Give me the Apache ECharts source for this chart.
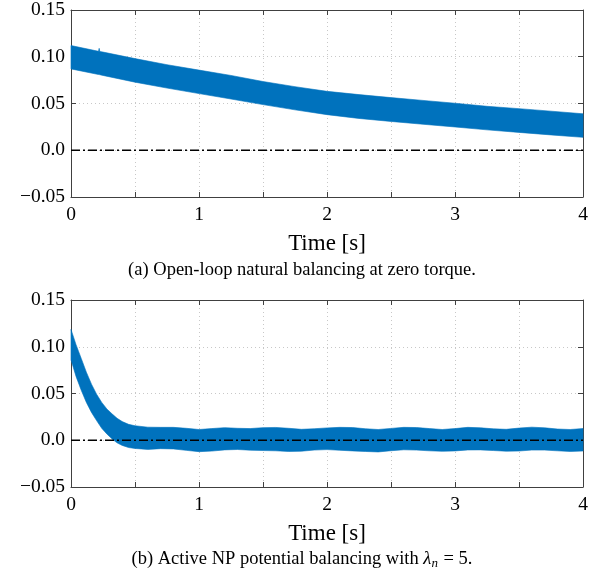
<!DOCTYPE html>
<html>
<head>
<meta charset="utf-8">
<script src="https://cdn.jsdelivr.net/npm/echarts@6/dist/echarts.min.js"></script>
<style>
  html, body { margin: 0; padding: 0; background: #fff; }
  #chart { width: 604px; height: 574px; }
</style>
</head>
<body>
<div id="chart"></div>
<script>
// (a) open-loop: envelope of the fast oscillation
const timeA = [0, 0.215, 0.22, 0.225, 0.25, 0.5, 0.75, 1.0, 1.25, 1.5, 1.75, 2.0, 2.25, 2.5, 2.75, 3.0, 3.25, 3.5, 3.75, 4.0]
const upperA = [0.112, 0.1058, 0.109, 0.1056, 0.105, 0.098, 0.0915, 0.0857, 0.080, 0.0735, 0.068, 0.063, 0.0595, 0.0563, 0.0533, 0.0503, 0.047, 0.0445, 0.0418, 0.039]
const lowerA = [0.087, 0.081, 0.0809, 0.0808, 0.080, 0.0728, 0.0665, 0.0606, 0.0548, 0.0488, 0.0432, 0.0381, 0.034, 0.0308, 0.0278, 0.0249, 0.0218, 0.0191, 0.0164, 0.0138]

// (b) active NP balancing
const timeB = [0, 0.04, 0.08, 0.12, 0.16, 0.2, 0.24, 0.28, 0.32, 0.36, 0.4, 0.45, 0.5,
  0.6, 0.7, 0.8, 0.9, 1.0, 1.1, 1.2, 1.3, 1.4, 1.5, 1.6, 1.7, 1.8, 1.9, 2.0,
  2.1, 2.2, 2.3, 2.4, 2.5, 2.6, 2.7, 2.8, 2.9, 3.0, 3.1, 3.2, 3.3, 3.4, 3.5,
  3.6, 3.7, 3.8, 3.9, 4.0]
const upperB = [0.1185, 0.102, 0.0875, 0.0728, 0.060, 0.0492, 0.0405, 0.0335, 0.0283, 0.0235, 0.020, 0.017, 0.0155,
  0.0140, 0.0138, 0.0138, 0.0128, 0.0115, 0.0125, 0.0135, 0.0128, 0.0125, 0.0135, 0.0137, 0.0128, 0.0117, 0.0123, 0.0132,
  0.0138, 0.0136, 0.0123, 0.0115, 0.0127, 0.0138, 0.0136, 0.0125, 0.0115, 0.0125, 0.0138, 0.0133, 0.0122, 0.0117, 0.0130,
  0.0140, 0.0133, 0.0120, 0.0115, 0.0125]
const lowerB = [0.086, 0.068, 0.0535, 0.0405, 0.0298, 0.021, 0.0128, 0.0068, 0.0015, -0.0028, -0.0055, -0.0078, -0.0088,
  -0.0098, -0.0090, -0.0093, -0.0108, -0.0122, -0.0116, -0.0103, -0.0099, -0.0106, -0.0110, -0.0113, -0.0120, -0.0117, -0.0105, -0.0100,
  -0.0107, -0.0114, -0.0120, -0.0125, -0.0112, -0.0102, -0.0105, -0.0113, -0.0118, -0.0114, -0.0104, -0.0103, -0.0110, -0.0117, -0.0115,
  -0.0105, -0.0105, -0.0113, -0.0120, -0.0115]

const refTime = [0, 4]
const refValue = [0, 0]

const xTicks = [0, 1, 2, 3, 4]
const captionA = '(a) Open-loop natural balancing at zero torque.'

const blue = '#0072BD'
const frame = '#404040'
const font = '"Liberation Serif", "DejaVu Serif", serif'

const grids = [
  { left: 71, top: 10, width: 512, height: 187 },
  { left: 71, top: 300, width: 512, height: 187 }
]

const yFmt = (v) => {
  if (Math.abs(v) < 1e-9) return '0.0'
  return (v < 0 ? '\u2212' : '') + Math.abs(v).toFixed(2)
}
const xFmt = (v) => (xTicks.includes(Math.round(v * 100) / 100) ? String(Math.round(v)) : '')

const makeX = (gi, pos) => ({
  type: 'value',
  gridIndex: gi,
  position: pos,
  min: 0,
  max: 4,
  interval: 0.5,
  name: pos === 'bottom' ? 'Time [s]' : '',
  nameLocation: 'middle',
  nameGap: 35,
  nameTextStyle: { fontFamily: font, fontSize: 23, color: '#000' },
  axisLine: { show: true, onZero: false, lineStyle: { color: frame, width: 1 } },
  axisTick: { show: true, inside: true, length: 5, lineStyle: { color: frame } },
  axisLabel: { show: pos === 'bottom', formatter: xFmt, margin: 8, fontFamily: font, fontSize: 19.5, color: '#000' },
  splitLine: { show: pos === 'bottom', lineStyle: { type: [1, 3], color: '#c8c8c8', width: 1 } }
})

const makeY = (gi, pos) => ({
  type: 'value',
  gridIndex: gi,
  position: pos,
  min: -0.05,
  max: 0.15,
  interval: 0.05,
  axisLine: { show: true, onZero: false, lineStyle: { color: frame, width: 1 } },
  axisTick: { show: true, inside: true, length: 5, lineStyle: { color: frame } },
  axisLabel: { show: pos === 'left', formatter: yFmt, margin: 6, fontFamily: font, fontSize: 19.5, color: '#000' },
  splitLine: { show: pos === 'left', lineStyle: { type: [1, 3], color: '#c8c8c8', width: 1 } }
})

// band between lower and upper envelope, drawn as one polygon through the axes
const bandSeries = (t, lo, hi, xi, yi) => ({
  type: 'custom',
  xAxisIndex: xi,
  yAxisIndex: yi,
  silent: true,
  encode: { x: 0, y: [1, 2] },
  data: t.map((x, i) => [x, lo[i], hi[i]]),
  renderItem: (params, api) => {
    if (params.dataIndex !== 0) return null
    const pts = []
    for (let i = 0; i < t.length; i++) pts.push(api.coord([t[i], hi[i]]))
    for (let i = t.length - 1; i >= 0; i--) pts.push(api.coord([t[i], lo[i]]))
    return {
      type: 'polygon',
      shape: { points: pts },
      style: { fill: blue, stroke: blue, lineWidth: 0.6 }
    }
  }
})

const refSeries = (xi, yi) => ({
  type: 'line',
  xAxisIndex: xi,
  yAxisIndex: yi,
  symbol: 'none',
  silent: true,
  z: 5,
  lineStyle: { color: '#000', width: 1.6, type: [9, 3, 2, 3] },
  data: refTime.map((x, i) => [x, refValue[i]])
})

const chart = echarts.init(document.getElementById('chart'), null, { renderer: 'canvas' })
chart.setOption({
  animation: false,
  backgroundColor: '#fff',
  title: [
    {
      text: captionA,
      left: 'center',
      top: 256,
      textStyle: { fontFamily: font, fontSize: 18.5, fontWeight: 'normal', color: '#000' }
    },
    {
      text: '(b) Active NP potential balancing with {i|\u03bb}{sub|n}{t| = 5.}',
      left: 'center',
      top: 543,
      textStyle: {
        fontFamily: font, fontSize: 18.5, fontWeight: 'normal', color: '#000',
        rich: {
          i: { fontFamily: font, fontSize: 18.5, fontStyle: 'italic', color: '#000' },
          sub: { fontFamily: font, fontSize: 13, fontStyle: 'italic', color: '#000', padding: [9, 1, 0, 0] },
          t: { fontFamily: font, fontSize: 18.5, color: '#000' }
        }
      }
    }
  ],
  grid: grids,
  xAxis: [makeX(0, 'bottom'), makeX(0, 'top'), makeX(1, 'bottom'), makeX(1, 'top')],
  yAxis: [makeY(0, 'left'), makeY(0, 'right'), makeY(1, 'left'), makeY(1, 'right')],
  series: [
    bandSeries(timeA, lowerA, upperA, 0, 0),
    refSeries(0, 0),
    bandSeries(timeB, lowerB, upperB, 2, 2),
    refSeries(2, 2)
  ]
})
</script>
</body>
</html>
